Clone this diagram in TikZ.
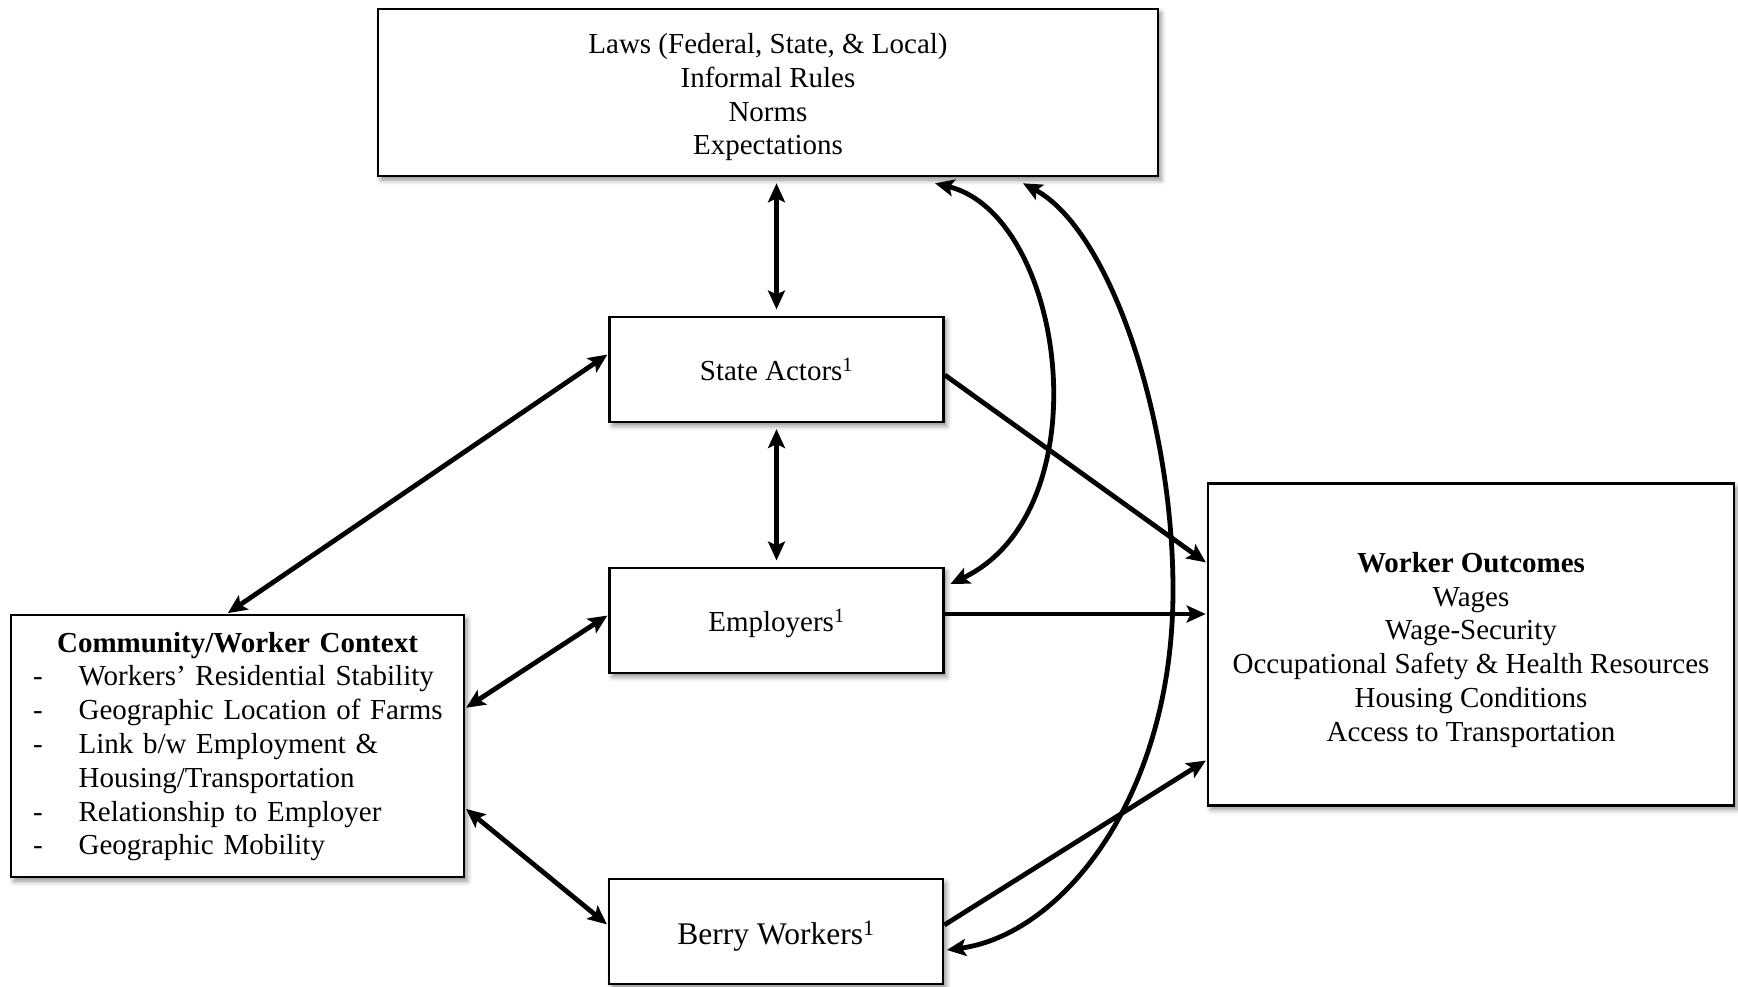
\documentclass[tikz,border=0pt]{standalone}
\usepackage{fontspec}
\setmainfont{Liberation Serif}
\usetikzlibrary{arrows.meta,shadows.blur,calc}
\tikzset{
  ah/.tip={Stealth[length=19pt,width=17pt,inset=4pt]},
  box/.style={draw, line width=2.6pt, fill=white, inner sep=0pt,
    blur shadow={shadow xshift=3pt, shadow yshift=-4pt, shadow blur radius=5pt, shadow opacity=45}},
  txt/.style={inner sep=0pt, align=center, font=\fontsize{29}{33.8}\selectfont},
  both/.style={line width=4.8pt, ah-ah},
  one/.style={line width=4.8pt, -ah},
}
\begin{document}
\begin{tikzpicture}[x=1pt,y=-1pt]
\useasboundingbox (0,0) rectangle (1738,987);

% boxes
\node[box, minimum width=780pt, minimum height=167pt] (top) at (768,92.5) {};
\node[box, minimum width=334pt, minimum height=105pt] (state) at (776.5,369.3) {};
\node[box, minimum width=334pt, minimum height=105pt] (emp) at (776.5,620.3) {};
\node[box, minimum width=334pt, minimum height=105pt] (berry) at (776,931.5) {};
\node[box, minimum width=453pt, minimum height=262pt] (comm) at (237.5,746) {};
\node[box, minimum width=526pt, minimum height=322pt] (out) at (1471,644.3) {};

% box texts
\node[txt] (top-text) at (768,97.3)
  {Laws (Federal, State, \& Local)\\Informal Rules\\Norms\\Expectations};
\node[txt] (state-text) at (776.5,369.5) {State Actors\textsuperscript{1}};
\node[txt] (emp-text) at (776.5,623.3) {Employers\textsuperscript{1}};
\node[txt, font=\fontsize{31.5}{36}\selectfont] (berry-text) at (776,935.8) {Berry Workers\textsuperscript{1}};
\node[txt, text width=453pt, align=left] (comm-text) at (237.5,746.5)
  {\makebox[453pt][c]{\bfseries Community/Worker Context}\\
   \hspace*{22pt}\makebox[45.6pt][l]{-}Workers’ Residential Stability\\
   \hspace*{22pt}\makebox[45.6pt][l]{-}Geographic Location of Farms\\
   \hspace*{22pt}\makebox[45.6pt][l]{-}Link b/w Employment \&\\
   \hspace*{67.6pt}Housing/Transportation\\
   \hspace*{22pt}\makebox[45.6pt][l]{-}Relationship to Employer\\
   \hspace*{22pt}\makebox[45.6pt][l]{-}Geographic Mobility};
\node[txt] (out-text) at (1471,649.8)
  {\textbf{Worker Outcomes}\\Wages\\Wage-Security\\Occupational Safety \& Health Resources\\Housing Conditions\\Access to Transportation};

% vertical links
\draw[both, shorten <=6pt, shorten >=6pt] (state.north |- top.south) -- (state.north);
\draw[both, shorten <=6pt, shorten >=6pt] (state.south) -- (emp.north);

% links to the community context
\draw[both, shorten <=1pt, shorten >=1pt] ([xshift=-10.5pt]comm.north) -- ([yshift=15.3pt]state.west);
\draw[both, shorten <=1pt, shorten >=1pt] ([yshift=37.7pt]comm.east) -- ([yshift=5.3pt]emp.west);
\draw[both, shorten <=1pt, shorten >=1pt] ([yshift=-62.3pt]comm.east) -- ([yshift=6.5pt]berry.west);

% links to outcomes
\draw[one, shorten >=1pt] ([yshift=-5.7pt]state.east) -- ([yshift=81.3pt]out.west);
\draw[one, shorten >=1pt] ([yshift=6.3pt]emp.east) -- ([yshift=6.3pt]emp.east -| out.west);
\draw[one, shorten >=1pt] ([yshift=6.5pt]berry.east) -- ([yshift=-115.7pt]out.west);

% curved links back to the institutional context
\draw[both] ([shift={(167pt,-6pt)}]top.south) .. controls (1065,215) and (1105,510) .. ([shift={(5.6pt,36.3pt)}]emp.east);
\draw[both] ([shift={(255pt,-6pt)}]top.south) .. controls (1110,230) and (1173,420) .. (1173,590)
  .. controls (1173,800) and (1060,935) .. ([shift={(2.6pt,-18.5pt)}]berry.east);
\end{tikzpicture}
\end{document}
